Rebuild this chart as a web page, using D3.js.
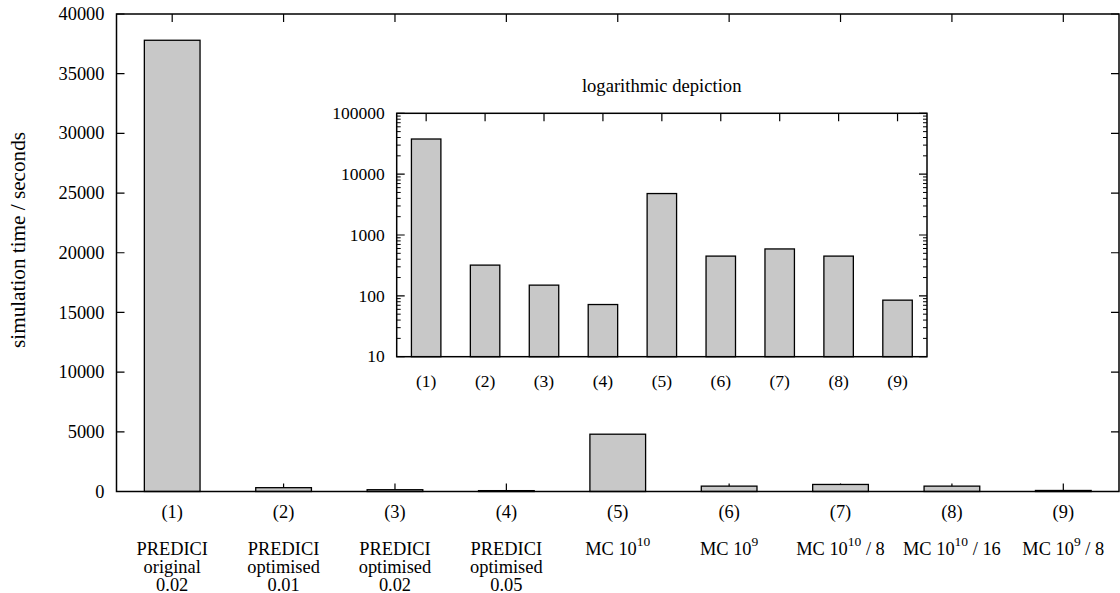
<!DOCTYPE html>
<html>
<head>
<meta charset="utf-8">
<script src="https://cdn.jsdelivr.net/npm/d3@7"></script>
</head>
<body style="margin:0;background:#fff">
<div id="chart"></div>
<script>
'use strict';

// data
const categories = ['(1)', '(2)', '(3)', '(4)', '(5)', '(6)', '(7)', '(8)', '(9)'];
const times = [37800, 320, 150, 72, 4800, 450, 590, 450, 85];
const descriptions = [
    ['PREDICI', 'original', '0.02'],
    ['PREDICI', 'optimised', '0.01'],
    ['PREDICI', 'optimised', '0.02'],
    ['PREDICI', 'optimised', '0.05'],
    ['MC 10^10'],
    ['MC 10^9'],
    ['MC 10^10 / 8'],
    ['MC 10^10 / 16'],
    ['MC 10^9 / 8'],
];
const yTicks = [0, 5000, 10000, 15000, 20000, 25000, 30000, 35000, 40000];
const logTicks = [10, 100, 1000, 10000, 100000];

const width = 1120, height = 593;
const barFill = '#c8c8c8';
const serif = '"Liberation Serif"';
const fs = '18.4px';

const svg = d3.select('#chart').append('svg')
    .attr('width', width)
    .attr('height', height);

// ---------- main plot ----------
const m = {left: 116.5, top: 14, right: 1119, bottom: 491.5};

const x = d3.scaleBand()
    .domain(categories)
    .range([m.left, m.right])
    .paddingInner(0.5)
    .paddingOuter(0.25);

const y = d3.scaleLinear()
    .domain([0, 40000])
    .range([m.bottom, m.top]);

const main = svg.append('g');

// ticks (mirrored like gnuplot)
const tickLen = 8;
main.selectAll('.ytick')
    .data(yTicks)
    .enter().append('path')
    .attr('stroke', '#000').attr('stroke-width', 1.2)
    .attr('d', (d) => 'M' + m.left + ',' + y(d) + 'h' + tickLen +
        'M' + m.right + ',' + y(d) + 'h' + (-tickLen));

main.selectAll('.xtick')
    .data(categories)
    .enter().append('path')
    .attr('stroke', '#000').attr('stroke-width', 1.2)
    .attr('d', (d) => {
        const cx = x(d) + x.bandwidth() / 2;
        return 'M' + cx + ',' + m.bottom + 'v' + (-tickLen) +
            'M' + cx + ',' + m.top + 'v' + tickLen;
    });

main.selectAll('.bar')
    .data(times)
    .enter().append('rect')
    .attr('x', (d, i) => x(categories[i]))
    .attr('y', (d) => y(d))
    .attr('width', x.bandwidth())
    .attr('height', (d) => m.bottom - y(d))
    .attr('fill', barFill)
    .attr('stroke', '#000')
    .attr('stroke-width', 1.3);

main.append('rect')
    .attr('x', m.left).attr('y', m.top)
    .attr('width', m.right - m.left).attr('height', m.bottom - m.top)
    .attr('fill', 'none').attr('stroke', '#000').attr('stroke-width', 1.5);

main.selectAll('.ylabel')
    .data(yTicks)
    .enter().append('text')
    .attr('x', m.left - 12)
    .attr('y', (d) => y(d))
    .attr('dy', '0.33em')
    .attr('text-anchor', 'end')
    .style('font-family', serif)
    .style('font-size', fs)
    .text((d) => d);

main.selectAll('.xlabel')
    .data(categories)
    .enter().append('text')
    .attr('x', (d) => x(d) + x.bandwidth() / 2)
    .attr('y', 518)
    .attr('text-anchor', 'middle')
    .style('font-family', serif)
    .style('font-size', fs)
    .text((d) => d);

// descriptions, with superscripts written as ^n
const desc = main.selectAll('.desc')
    .data(descriptions)
    .enter().append('g');

desc.each(function(lines, i) {
    const cx = x(categories[i]) + x.bandwidth() / 2;
    lines.forEach((line, j) => {
        const t = d3.select(this).append('text')
            .attr('x', cx)
            .attr('y', 555 + j * 18.2)
            .attr('text-anchor', 'middle')
            .style('font-family', serif)
            .style('font-size', fs);
        const parts = line.match(/^(.*?)\^(\d+)(.*)$/);
        if (!parts) {
            t.text(line);
            return;
        }
        t.append('tspan').text(parts[1]);
        t.append('tspan').attr('dy', -9).style('font-size', '13.5px').text(parts[2]);
        if (parts[3]) t.append('tspan').attr('dy', 9).text(parts[3]);
    });
});

svg.append('text')
    .attr('transform', 'translate(25,240) rotate(-90)')
    .attr('text-anchor', 'middle')
    .style('font-family', serif)
    .style('font-size', '21.2px')
    .text('simulation time / seconds');

// ---------- inset, log scale ----------
const n = {left: 396.7, top: 113.3, right: 927, bottom: 356.7};

const xi = d3.scaleBand()
    .domain(categories)
    .range([n.left, n.right])
    .paddingInner(0.5)
    .paddingOuter(0.25);

const yi = d3.scaleLog()
    .domain([10, 100000])
    .range([n.bottom, n.top]);

const inset = svg.append('g');

inset.append('rect')
    .attr('x', n.left).attr('y', n.top)
    .attr('width', n.right - n.left).attr('height', n.bottom - n.top)
    .attr('fill', '#fff');

const minor = [];
logTicks.slice(0, -1).forEach((d) => {
    for (let k = 2; k < 10; k++) minor.push(d * k);
});

inset.selectAll('.minor')
    .data(minor)
    .enter().append('path')
    .attr('stroke', '#000').attr('stroke-width', 1)
    .attr('d', (d) => 'M' + n.left + ',' + yi(d) + 'h4M' + n.right + ',' + yi(d) + 'h-4');

inset.selectAll('.major')
    .data(logTicks)
    .enter().append('path')
    .attr('stroke', '#000').attr('stroke-width', 1.2)
    .attr('d', (d) => 'M' + n.left + ',' + yi(d) + 'h' + tickLen +
        'M' + n.right + ',' + yi(d) + 'h' + (-tickLen));

inset.selectAll('.xtick')
    .data(categories)
    .enter().append('path')
    .attr('stroke', '#000').attr('stroke-width', 1.2)
    .attr('d', (d) => {
        const cx = xi(d) + xi.bandwidth() / 2;
        return 'M' + cx + ',' + n.bottom + 'v' + (-tickLen) +
            'M' + cx + ',' + n.top + 'v' + tickLen;
    });

inset.selectAll('.bar')
    .data(times)
    .enter().append('rect')
    .attr('x', (d, i) => xi(categories[i]))
    .attr('y', (d) => yi(d))
    .attr('width', xi.bandwidth())
    .attr('height', (d) => n.bottom - yi(d))
    .attr('fill', barFill)
    .attr('stroke', '#000')
    .attr('stroke-width', 1.3);

inset.append('rect')
    .attr('x', n.left).attr('y', n.top)
    .attr('width', n.right - n.left).attr('height', n.bottom - n.top)
    .attr('fill', 'none').attr('stroke', '#000').attr('stroke-width', 1.5);

inset.selectAll('.ylabel')
    .data(logTicks)
    .enter().append('text')
    .attr('x', n.left - 12)
    .attr('y', (d) => yi(d))
    .attr('dy', '0.33em')
    .attr('text-anchor', 'end')
    .style('font-family', serif)
    .style('font-size', '17.5px')
    .text((d) => d);

inset.selectAll('.xlabel')
    .data(categories)
    .enter().append('text')
    .attr('x', (d) => xi(d) + xi.bandwidth() / 2)
    .attr('y', 387)
    .attr('text-anchor', 'middle')
    .style('font-family', serif)
    .style('font-size', '17.5px')
    .text((d) => d);

inset.append('text')
    .attr('x', 661.7)
    .attr('y', 92)
    .attr('text-anchor', 'middle')
    .style('font-family', serif)
    .style('font-size', '18.6px')
    .text('logarithmic depiction');
</script>
</body>
</html>
